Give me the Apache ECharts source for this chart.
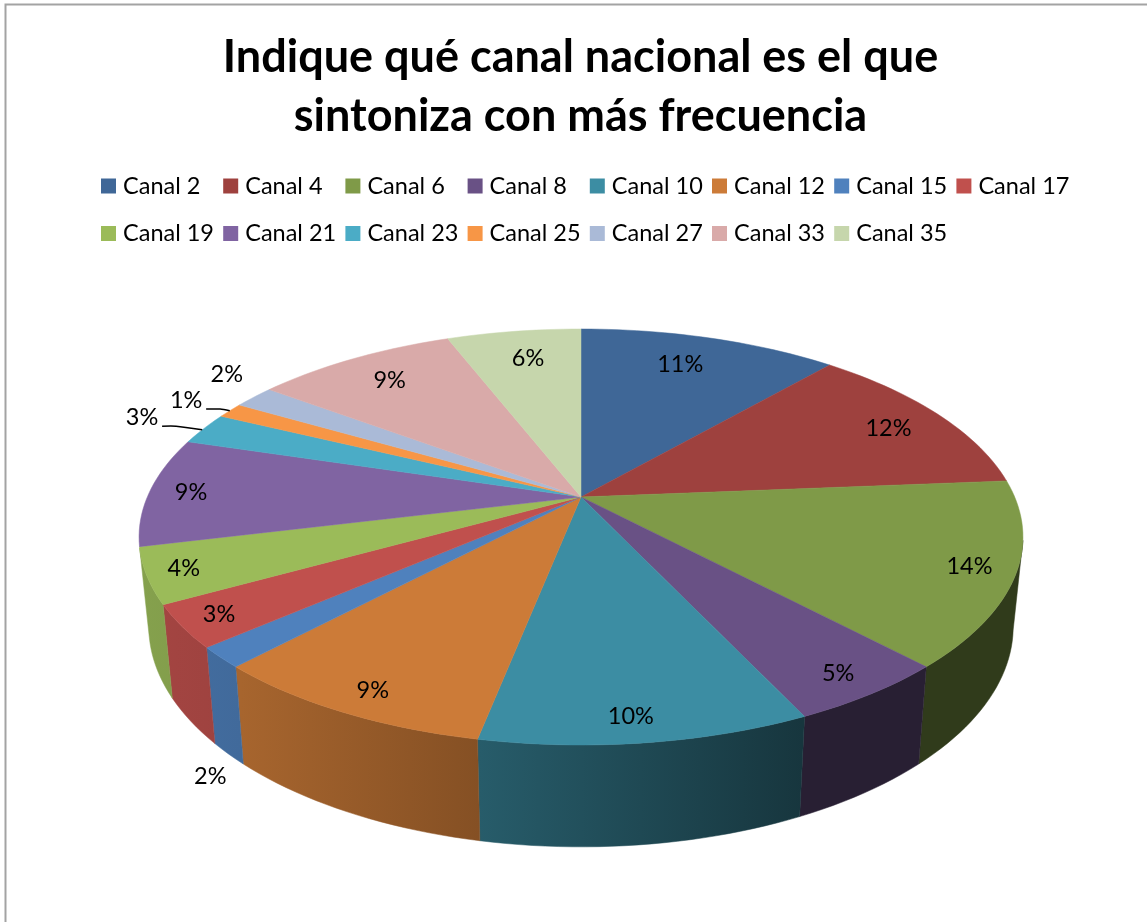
<!DOCTYPE html>
<html>
<head>
<meta charset="utf-8">
<style>
  html, body { margin: 0; padding: 0; background: #fff; }
  #chart { width: 1147px; height: 922px; }
</style>
<script src="https://cdn.jsdelivr.net/npm/echarts@6/dist/echarts.min.js"></script>
</head>
<body>
<div id="chart"></div>
<script>
var categories = ['Canal 2', 'Canal 4', 'Canal 6', 'Canal 8', 'Canal 10', 'Canal 12', 'Canal 15', 'Canal 17',
  'Canal 19', 'Canal 21', 'Canal 23', 'Canal 25', 'Canal 27', 'Canal 33', 'Canal 35']
var values = [11.4, 12.3, 14.3, 5, 10.1, 8.9, 1.6, 3.3, 4.3, 8.5, 2.5, 1.2, 1.8, 8.9, 5.9]
var colors = ['#3f6797', '#9e413e', '#7f9a48', '#695185', '#3c8da3', '#cc7b38', '#4f81bd', '#c0504d',
  '#9bbb59', '#8064a2', '#4bacc6', '#f79646', '#aabad7', '#d9aaa9', '#c6d6ac']

// where each % label sits on the disc: degrees clockwise from top, fraction of the radius
var labelAngle = [19, 64, 111, 146, 174, 206.5, 211.5, 235, 249, 271.6, 291.5, 298, 307, 323, 350]
var labelRadius = [0.806, 0.845, 0.9, 0.907, 0.909, 0.908, 1.29, 0.916, 0.919, 0.904, 1.178, 1.137, 1.16, 0.826, 0.812]
// labels with a leader line, and the rim angle it ends on
var leaders = { 10: 291, 11: 298 }

// perspective of the disc, fitted on the picture
var cx = 581
var cy = 497
var rx = 433.7
var ry = 200.3
var tilt = 0.1923
// bottom disc relative to the top one
var bottomX = 0.978
var bottomY = 1.06
var bottomDrop = 87
// part of the rim that faces the viewer
var wallFrom = 102
var wallTo = 256
// shade of the wall from left to right
var wallShade = [[0, 0.86], [0.115, 0.82], [0.385, 0.65], [0.75, 0.38], [1, 0.38]]

function topPoint(deg, r) {
  var a = deg * Math.PI / 180
  var u = Math.sin(a) * r
  var v = Math.cos(a) * r
  var w = 1 + tilt * v
  return [cx + rx * u / w, cy - ry * v / w]
}

function bottomPoint(deg) {
  var p = topPoint(deg, 1)
  return [cx + bottomX * (p[0] - cx), cy + bottomDrop + bottomY * (p[1] - cy)]
}

function arc(from, to, fn) {
  var pts = []
  var n = Math.max(2, Math.ceil((to - from) / 1.5))
  for (var i = 0; i <= n; i++) {
    pts.push(fn(from + (to - from) * i / n))
  }
  return pts
}

function shade(hex, f) {
  var c = echarts.color.parse(hex)
  return 'rgb(' + Math.round(c[0] * f) + ',' + Math.round(c[1] * f) + ',' + Math.round(c[2] * f) + ')'
}

function wallFill(hex) {
  var stops = wallShade.map(function(s) {
    return { offset: s[0], color: shade(hex, s[1]) }
  })
  return new echarts.graphic.LinearGradient(cx - 442, 0, cx + 442, 0, stops, true)
}

function renderSlice(params, api) {
  var i = params.seriesIndex
  var from = api.value(0) * 3.6
  var to = api.value(1) * 3.6
  var children = []

  var a = Math.max(from, wallFrom)
  var b = Math.min(to, wallTo)
  if (b > a) {
    var upper = arc(a, b, function(d) { return topPoint(d, 1) })
    var lower = arc(a, b, bottomPoint).reverse()
    var fill = wallFill(colors[i])
    children.push({
      type: 'polygon',
      shape: { points: upper.concat(lower) },
      style: { fill: fill, stroke: fill, lineWidth: 0.5 },
      z2: 1
    })
  }

  var rim = arc(from, to, function(d) { return topPoint(d, 1) })
  children.push({
    type: 'polygon',
    shape: { points: [[cx, cy]].concat(rim) },
    style: { fill: colors[i], stroke: colors[i], lineWidth: 0.5 },
    z2: 2
  })

  var spot = topPoint(labelAngle[i], labelRadius[i])
  if (leaders[i] !== undefined) {
    var start = [spot[0] + 20, spot[1] + 9]
    children.push({
      type: 'polyline',
      shape: {
        points: [start, [start[0] + 14, start[1]], topPoint(leaders[i], 1)],
        smooth: 0.25
      },
      style: { fill: null, stroke: '#000', lineWidth: 1.5 },
      z2: 3
    })
  }
  children.push({
    type: 'text',
    x: spot[0],
    y: spot[1] + 0.5,
    style: {
      text: Math.round(api.value(2)) + '%',
      fill: '#000',
      font: '23.5px Lato',
      align: 'center',
      verticalAlign: 'middle'
    },
    z2: 4
  })
  return { type: 'group', children: children }
}

var running = 0
var series = categories.map(function(name, i) {
  var start = running
  running += values[i]
  return {
    name: name,
    type: 'custom',
    coordinateSystem: 'none',
    silent: true,
    animation: false,
    color: colors[i],
    itemStyle: { color: colors[i] },
    renderItem: renderSlice,
    data: [[start, running, values[i]]]
  }
})

// the legend is a fixed grid of 8 columns, so each entry gets its own slot
var legends = categories.map(function(name, i) {
  return {
    data: [name],
    left: 101 + (i % 8) * 122.2,
    top: i < 8 ? 174 : 221.5,
    icon: 'rect',
    itemWidth: 15,
    itemHeight: 15,
    itemGap: 0,
    padding: 0,
    selectedMode: false,
    textStyle: {
      fontFamily: 'Lato',
      fontSize: 23.5,
      color: '#000',
      padding: [0, 0, 0, 2]
    }
  }
})

var chart = echarts.init(document.getElementById('chart'), null, { renderer: 'canvas' })
chart.setOption({
  animation: false,
  backgroundColor: '#fff',
  title: {
    text: 'Indique qué canal nacional es el que\nsintoniza con más frecuencia',
    left: 575.5,
    top: 23,
    textAlign: 'center',
    textStyle: {
      fontFamily: 'Lato',
      fontWeight: 'bold',
      fontSize: 45,
      lineHeight: 59,
      color: '#000'
    }
  },
  legend: legends,
  graphic: [{
    type: 'polyline',
    silent: true,
    shape: { points: [[5.5, 922], [5.5, 4.5], [1147, 4.5]] },
    style: { fill: null, stroke: '#a3a3a3', lineWidth: 2 }
  }],
  series: series
})
</script>
</body>
</html>
